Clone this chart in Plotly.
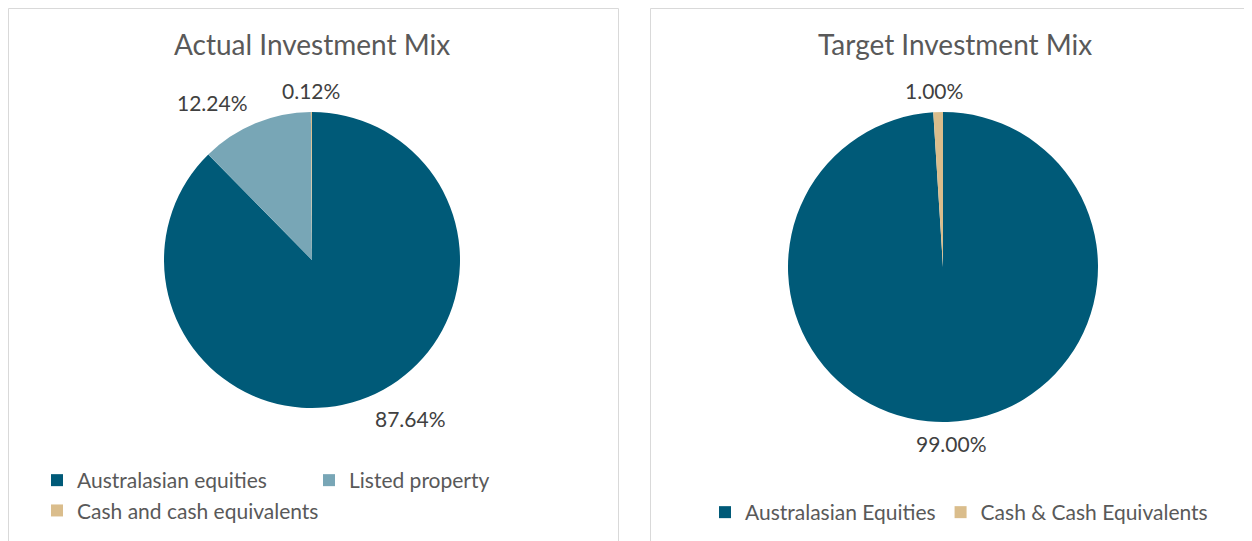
import math
import plotly.graph_objects as go

# ---- data ----
actual_labels = ["Australasian equities", "Listed property", "Cash and cash equivalents"]
actual_values = [87.64, 12.24, 0.12]
actual_colors = ["#005A78", "#78A6B6", "#DABD8C"]

target_labels = ["Australasian Equities", "Cash & Cash Equivalents"]
target_values = [99.00, 1.00]
target_colors = ["#005A78", "#DABD8C"]

titles = ["Actual Investment Mix", "Target Investment Mix"]

# ---- geometry (figure pixel space; the page adds an 8px body margin) ----
W, H = 1244, 533
ML = 29  # left margin used so the left legend wraps like the original
PW = W - ML


def px_x(fx):
    return (fx - ML) / PW


def px_y(fy):
    return 1 - fy / H


FONT = "Lato"
LABEL_COLOR = "#404040"
TEXT_COLOR = "#595959"
LABEL_SIZE = 21

pies = [
    dict(labels=actual_labels, values=actual_values, colors=actual_colors,
         cx=304, cy=252, r=148, legend="legend", title=titles[0], tx=304),
    dict(labels=target_labels, values=target_values, colors=target_colors,
         cx=935, cy=259, r=155, legend="legend2", title=titles[1], tx=947),
]

fig = go.Figure()


def clamp(t):
    return max(-1.0, min(1.0, t))


for p in pies:
    fig.add_trace(go.Pie(
        labels=p["labels"], values=p["values"],
        marker=dict(colors=p["colors"], line=dict(width=0)),
        sort=False, direction="clockwise", rotation=0,
        textinfo="none",
        domain=dict(x=[px_x(p["cx"] - p["r"]), px_x(p["cx"] + p["r"])],
                    y=[px_y(p["cy"] + p["r"]), px_y(p["cy"] - p["r"])]),
        legend=p["legend"], showlegend=True, hoverinfo="label+percent",
    ))

    # data labels placed just outside each slice's mid-angle (computed from values)
    total = sum(p["values"])
    cum = 0.0
    gap, hw, hh = 12, 38, 10
    for v in p["values"]:
        theta = math.radians(360.0 * (cum + v / 2.0) / total)
        cum += v
        s, c = math.sin(theta), math.cos(theta)
        lx = p["cx"] + (p["r"] + gap) * s + hw * clamp(3 * s)
        ly = p["cy"] - (p["r"] + gap) * c + hh * clamp(-3 * c)
        fig.add_annotation(text=f"{v:.2f}%", x=px_x(lx), y=px_y(ly),
                           xref="paper", yref="paper", xanchor="center", yanchor="middle",
                           showarrow=False,
                           font=dict(family=FONT, size=LABEL_SIZE, color=LABEL_COLOR))

    fig.add_annotation(text=p["title"], x=px_x(p["tx"]), y=px_y(36), xref="paper", yref="paper",
                       xanchor="center", yanchor="middle", showarrow=False,
                       font=dict(family=FONT, size=28, color=TEXT_COLOR))

# panel borders
fig.add_shape(type="rect", xref="paper", yref="paper",
              x0=px_x(0.5), x1=px_x(610.5), y0=px_y(560), y1=px_y(0.5),
              line=dict(color="#D9D9D9", width=1), fillcolor="rgba(0,0,0,0)", layer="below")
fig.add_shape(type="rect", xref="paper", yref="paper",
              x0=px_x(642.5), x1=px_x(1270), y0=px_y(560), y1=px_y(0.5),
              line=dict(color="#D9D9D9", width=1), fillcolor="rgba(0,0,0,0)", layer="below")

fig.update_layout(
    width=W, height=H,
    margin=dict(l=ML, r=0, t=0, b=0, autoexpand=False),
    paper_bgcolor="white", plot_bgcolor="white",
    font=dict(family=FONT, size=21, color=TEXT_COLOR),
    legend=dict(orientation="h", x=-1e-6, xanchor="left", y=px_y(452), yanchor="top",
                font=dict(family=FONT, size=21, color=TEXT_COLOR), entrywidth=227,
                bgcolor="rgba(0,0,0,0)", traceorder="normal"),
    legend2=dict(orientation="h", x=px_x(697), xanchor="left", y=px_y(484), yanchor="top",
                 font=dict(family=FONT, size=21, color=TEXT_COLOR),
                 bgcolor="rgba(0,0,0,0)", traceorder="normal"),
)

fig.write_html("out.html")
